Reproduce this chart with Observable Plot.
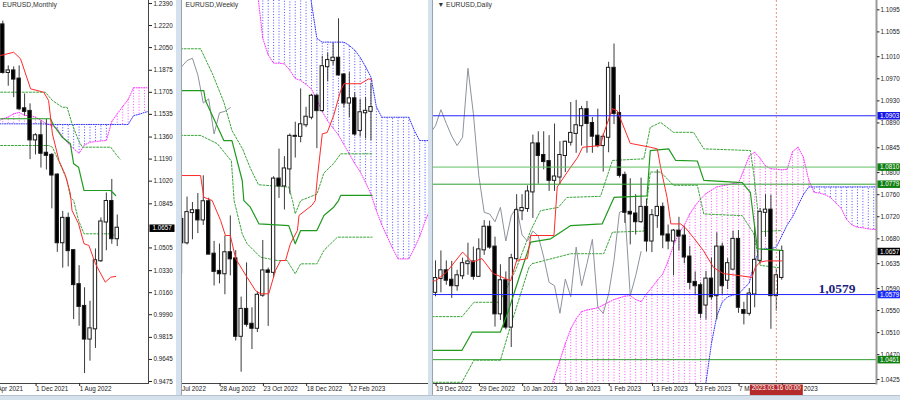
<!DOCTYPE html>
<html>
<head>
<meta charset="utf-8">
<script src="https://cdn.jsdelivr.net/npm/d3@7"></script>
<script src="https://cdn.jsdelivr.net/npm/@observablehq/plot@0.6"></script>
<style>
  html, body { margin: 0; padding: 0; background: #fff; }
  #chart { position: relative; width: 900px; height: 400px; overflow: hidden; background: #fff; }
  .pane { position: absolute; top: 0; }
  .pane svg { display: block; max-width: none; }
  .deco { position: absolute; }
</style>
</head>
<body>
<div id="chart">
  <div class="pane" id="monthly" style="left:0;width:176px;height:395px"></div>
  <div class="pane" id="weekly" style="left:182px;width:247px;height:395px"></div>
  <div class="pane" id="daily" style="left:433px;width:467px;height:395px"></div>
  <div class="deco" style="left:176px;top:0;width:6px;height:400px;background:#d6e1ee"></div>
  <div class="deco" style="left:181px;top:0;width:1px;height:395px;background:#9aa3ad"></div>
  <div class="deco" style="left:428px;top:0;width:4px;height:400px;background:#d6e1ee"></div>
  <div class="deco" style="left:432px;top:0;width:1px;height:395px;background:#9aa3ad"></div>
  <div class="deco" style="left:0;top:395px;width:900px;height:5px;background:#d6e1ee"></div>
  <div class="deco" style="left:0;top:395px;width:900px;height:1px;background:#b8c2ce"></div>
</div>
<script>
// ================= MONTHLY (Jun 2021 - Mar 2023) =================
const monthlyTitle = "EURUSD,Monthly";
const monthlyOpen  = [1.2225,1.1858,1.1870,1.1807,1.1578,1.1558,1.1338,1.1370,1.1235,1.1219,1.1067,1.0545,1.0733,1.0484,1.0222,1.0054,0.9802,0.9881,1.0406,1.0705,1.0863,1.0576];
const monthlyHigh  = [1.2254,1.1909,1.1901,1.1909,1.1692,1.1616,1.1386,1.1483,1.1495,1.1233,1.1076,1.0787,1.0774,1.0486,1.0368,1.0198,1.0094,1.0497,1.0736,1.0929,1.1033,1.0759];
const monthlyLow   = [1.1845,1.1752,1.1664,1.1563,1.1524,1.1186,1.1222,1.1121,1.1106,1.0806,1.0471,1.0349,1.0359,0.9952,0.9901,0.9536,0.9632,0.9730,1.0393,1.0483,1.0533,1.0516];
const monthlyClose = [1.1858,1.1870,1.1807,1.1578,1.1558,1.1338,1.1370,1.1235,1.1219,1.1067,1.0545,1.0733,1.0484,1.0222,1.0054,0.9802,0.9881,1.0406,1.0705,1.0863,1.0576,1.0657];
const monthlyTenkan = [[-0.4,1.1989],[2,1.2014],[3.25,1.1964],[5.1,1.1732],[7.5,1.1706],[8.4,1.1642],[9.1,1.1385],[10.3,1.1179],[11.5,1.1064],[12.4,1.0922],[12.7,1.0794],[13.9,1.0691],[14.9,1.0537],[15.8,1.0524],[17,1.0383],[18.8,1.0241],[19.8,1.0279],[20.7,1.0285]];
const monthlyKijun = [[-0.4,1.1501],[8.75,1.1501],[9.35,1.1449],[10.9,1.1359],[12.4,1.1308],[13,1.1154],[13.9,1.1128],[14.9,1.0948],[19.8,1.0948],[20.7,1.0909]];
const monthlyUpperBand = [[-0.4,1.1706],[7.8,1.1706],[9.1,1.1642],[10.9,1.1590],[11.8,1.1590],[12.7,1.1462],[13.9,1.1333],[14.6,1.1282],[19.8,1.1282],[20.7,1.1231],[21.5,1.1190]];
const monthlyLowerBand = [[-0.4,1.1295],[8.4,1.1295],[9.1,1.1282],[10.9,1.1115],[11.8,1.1025],[12.4,1.0896],[13,1.0871],[13.9,1.0717],[14.9,1.0614],[19.8,1.0614],[20.7,1.0601]];
const monthlySpanStart = -1;
const monthlySpanA = [1.1480,1.1500,1.1515,1.1539,1.1550,1.1526,1.1526,1.1513,1.1490,1.1462,1.1449,1.1424,1.1359,1.1310,1.1270,1.1235,1.1300,1.1320,1.1325,1.1330,1.1333,1.1480,1.1540,1.1595,1.1650,1.1740,1.1740,1.1740,1.1740];
const monthlySpanB = [1.1462,1.1462,1.1462,1.1462,1.1462,1.1462,1.1462,1.1462,1.1462,1.1460,1.1457,1.1457,1.1457,1.1457,1.1457,1.1457,1.1457,1.1457,1.1457,1.1457,1.1457,1.1457,1.1457,1.1457,1.1457,1.1526,1.1535,1.1550,1.1560];
const monthlyTicks = [1.2390,1.2220,1.2050,1.1875,1.1705,1.1535,1.1360,1.1190,1.1020,1.0845,1.0505,1.0330,1.0160,0.9990,0.9815,0.9645,0.9475];
const monthlyXTicks = [-2, 6, 14];
const monthlyXLabels = ["1 Apr 2021", "1 Dec 2021", "1 Aug 2022"];
const monthlyLastPrice = 1.0657;

// ================= WEEKLY (10 Jul 2022 - 12 Mar 2023) =================
const weeklyTitle = "EURUSD,Weekly";
const weeklyOpen  = [1.0183,1.0084,1.0212,1.0220,1.0181,1.0258,1.0036,0.9963,0.9953,1.0042,1.0016,0.9688,0.9802,0.9739,0.9722,0.9862,0.9965,0.9959,1.0354,1.0325,1.0397,1.0535,1.0535,1.0584,1.0616,1.0705,1.0644,1.0830,1.0856,1.0866,1.0795,1.0676,1.0694,1.0560,1.0635,1.0641];
const weeklyHigh  = [1.0200,1.0278,1.0255,1.0293,1.0368,1.0273,1.0090,1.0079,1.0113,1.0198,1.0051,0.9854,0.9999,0.9809,0.9876,1.0094,0.9977,1.0364,1.0481,1.0449,1.0545,1.0595,1.0736,1.0658,1.0713,1.0712,1.0874,1.0888,1.0929,1.1033,1.0801,1.0805,1.0719,1.0691,1.0700,1.0760];
const weeklyLow   = [0.9952,1.0075,1.0097,1.0123,1.0158,1.0034,0.9901,0.9910,0.9864,0.9944,0.9668,0.9536,0.9727,0.9632,0.9704,0.9853,0.9730,0.9935,1.0272,1.0223,1.0290,1.0443,1.0508,1.0572,1.0605,1.0483,1.0637,1.0766,1.0835,1.0796,1.0656,1.0613,1.0535,1.0533,1.0524,1.0516];
const weeklyClose = [1.0084,1.0212,1.0220,1.0181,1.0258,1.0036,0.9963,0.9953,1.0042,1.0016,0.9688,0.9802,0.9739,0.9722,0.9862,0.9965,0.9959,1.0354,1.0325,1.0397,1.0535,1.0535,1.0584,1.0616,1.0705,1.0644,1.0830,1.0856,1.0866,1.0795,1.0676,1.0694,1.0545,1.0635,1.0641,1.0657];
const weeklyTenkan = [[-0.2,1.0369],[3.5,1.0369],[4.1,1.0277],[5.65,1.0263],[7.2,1.0179],[8.1,1.0115],[9,1.0115],[10,1.0016],[12.1,0.9938],[13.65,0.9882],[14.6,0.9868],[16.1,0.9868],[17.35,0.9967],[18.3,1.0009],[19.2,1.0009],[20.1,1.0080],[21.4,1.0136],[21.7,1.0200],[24.1,1.0243],[24.7,1.0263],[25.1,1.0362],[26,1.0546],[26.9,1.0551],[28.1,1.0623],[29.4,1.0729],[30,1.0758],[33.1,1.0758],[34.6,1.0779],[35.2,1.0772]];
const weeklyKijun = [[-0.2,1.0729],[4.1,1.0729],[4.4,1.0687],[7.8,1.0517],[9.3,1.0517],[11.2,1.0348],[11.5,1.0263],[12.7,1.0235],[14.3,1.0164],[19.8,1.0157],[21,1.0080],[22,1.0136],[25,1.0136],[26.3,1.0200],[28.1,1.0235],[29,1.0263],[29.4,1.0285],[35.2,1.0285]];
const weeklyUpperBand = [[-0.2,1.0906],[3.5,1.0906],[5.7,1.0800],[7.8,1.0680],[9.3,1.0560],[11.3,1.0480],[12.7,1.0400],[14.2,1.0330],[19.8,1.0320],[20.5,1.0263],[21,1.0207],[22,1.0263],[25,1.0290],[26.3,1.0380],[28.1,1.0420],[29.4,1.0461],[35.2,1.0461]];
const weeklyLowerBand = [[-0.2,1.0539],[3.5,1.0539],[6.6,1.0504],[9.2,1.0430],[9.7,1.0263],[11.2,1.0122],[12.1,1.0080],[14.6,1.0023],[17.7,1.0009],[19.5,1.0009],[21,0.9953],[22,0.9995],[25,0.9995],[26.3,1.0052],[28.8,1.0108],[35.2,1.0108]];
const weeklySpanStart = 14;
const weeklySpanA = [1.1150,1.0950,1.0880,1.0845,1.0845,1.0842,1.0815,1.0780,1.0772,1.0755,1.0735,1.0690,1.0640,1.0600,1.0570,1.0540,1.0500,1.0460,1.0420,1.0385,1.0340,1.0290,1.0220,1.0160,1.0110,1.0060,1.0016,1.0016,1.0016,1.0060,1.0110,1.0175,1.0230];
const weeklySpanB = [1.1300,1.1300,1.1300,1.1300,1.1300,1.1300,1.1300,1.1300,1.1300,1.1300,1.1100,1.0950,1.0934,1.0934,1.0934,1.0934,1.0934,1.0920,1.0900,1.0870,1.0830,1.0786,1.0660,1.0616,1.0616,1.0616,1.0616,1.0616,1.0616,1.0560,1.0517,1.0517,1.0517];
const weeklyXTicks = [-1, 7, 15, 23, 31];
const weeklyXLabels = ["3 Jul 2022", "28 Aug 2022", "23 Oct 2022", "18 Dec 2022", "12 Feb 2023"];

// ================= DAILY (19 Dec 2022 - 17 Mar 2023) =================
const dailyTitle = "\u25BC EURUSD,Daily";
const dailyOpen  = [1.0583,1.0608,1.0622,1.0605,1.0595,1.0613,1.0635,1.0638,1.0612,1.0660,1.0701,1.0665,1.0544,1.0604,1.0520,1.0644,1.0731,1.0735,1.0765,1.0852,1.0831,1.0820,1.0786,1.0792,1.0831,1.0855,1.0871,1.0885,1.0914,1.0889,1.0866,1.0849,1.0864,1.0989,1.0907,1.0795,1.0728,1.0725,1.0711,1.0737,1.0676,1.0722,1.0737,1.0687,1.0676,1.0694,1.0685,1.0647,1.0601,1.0595,1.0560,1.0607,1.0577,1.0665,1.0605,1.0625,1.0679,1.0550,1.0545,1.0580,1.0641,1.0728,1.0732,1.0577,1.0610];
const dailyHigh  = [1.0640,1.0658,1.0640,1.0639,1.0623,1.0645,1.0672,1.0665,1.0680,1.0713,1.0712,1.0683,1.0633,1.0620,1.0652,1.0760,1.0760,1.0776,1.0868,1.0874,1.0874,1.0867,1.0888,1.0856,1.0857,1.0927,1.0931,1.0920,1.0929,1.0900,1.0915,1.0870,1.1000,1.1033,1.0940,1.0801,1.0789,1.0760,1.0790,1.0752,1.0733,1.0805,1.0745,1.0705,1.0697,1.0719,1.0702,1.0666,1.0620,1.0600,1.0621,1.0645,1.0691,1.0672,1.0644,1.0694,1.0695,1.0565,1.0590,1.0700,1.0735,1.0760,1.0759,1.0626,1.0667];
const dailyLow   = [1.0575,1.0582,1.0596,1.0572,1.0585,1.0606,1.0614,1.0605,1.0610,1.0650,1.0661,1.0520,1.0532,1.0515,1.0483,1.0637,1.0713,1.0728,1.0717,1.0779,1.0805,1.0766,1.0766,1.0778,1.0800,1.0848,1.0835,1.0848,1.0835,1.0835,1.0845,1.0801,1.0836,1.0887,1.0790,1.0708,1.0669,1.0687,1.0708,1.0656,1.0655,1.0699,1.0662,1.0660,1.0613,1.0658,1.0635,1.0588,1.0578,1.0535,1.0533,1.0569,1.0533,1.0577,1.0588,1.0623,1.0545,1.0524,1.0540,1.0555,1.0634,1.0683,1.0516,1.0549,1.0605];
const dailyClose = [1.0608,1.0622,1.0605,1.0595,1.0613,1.0635,1.0638,1.0612,1.0660,1.0701,1.0665,1.0544,1.0604,1.0520,1.0644,1.0731,1.0735,1.0765,1.0852,1.0831,1.0820,1.0786,1.0792,1.0831,1.0855,1.0871,1.0885,1.0914,1.0889,1.0866,1.0849,1.0864,1.0989,1.0907,1.0795,1.0728,1.0725,1.0711,1.0737,1.0676,1.0722,1.0737,1.0687,1.0676,1.0694,1.0685,1.0647,1.0601,1.0595,1.0545,1.0607,1.0575,1.0665,1.0595,1.0635,1.0679,1.0556,1.0545,1.0580,1.0641,1.0728,1.0732,1.0577,1.0613,1.0657];
const dailyTenkan = [[-0.6,1.0604],[0,1.0604],[2,1.0619],[5,1.0656],[6.8,1.0638],[8.6,1.0644],[10.7,1.0617],[13.9,1.0604],[15,1.0641],[17,1.0644],[17.6,1.0686],[21.9,1.0686],[22.5,1.0774],[25,1.0810],[26.3,1.0828],[27.2,1.0846],[30.5,1.0849],[31.1,1.0871],[32.7,1.0916],[33.6,1.0912],[36,1.0853],[39.7,1.0846],[41,1.0843],[41.6,1.0810],[42.8,1.0755],[43.5,1.0707],[45.3,1.0707],[46.2,1.0700],[47.7,1.0682],[49.5,1.0659],[51.4,1.0628],[53.2,1.0617],[56.4,1.0613],[58.5,1.0610],[59.1,1.0628],[60,1.0638],[61.2,1.0640],[64,1.0640]];
const dailyKijun = [[-0.6,1.0478],[4.9,1.0478],[6.8,1.0511],[12,1.0511],[13.5,1.0550],[15.1,1.0599],[17.6,1.0674],[21.3,1.0680],[25,1.0704],[30.8,1.0707],[33,1.0755],[39.1,1.0758],[39.7,1.0840],[43.1,1.0843],[44.4,1.0822],[48.4,1.0821],[49.6,1.0786],[56.7,1.0782],[58.2,1.0764],[59.5,1.0662],[64,1.0659]];
const dailyUpperBand = [[-0.6,1.0539],[4.9,1.0539],[7.1,1.0565],[11.8,1.0565],[14.8,1.0623],[17.6,1.0695],[19.4,1.0731],[22.7,1.0737],[24.3,1.0755],[30.5,1.0757],[32.7,1.0822],[38.5,1.0825],[39.7,1.0882],[41.6,1.0891],[44,1.0873],[47.7,1.0873],[49.6,1.0843],[58.2,1.0840],[58.8,1.0800],[60,1.0693],[64,1.0695]];
const dailyLowerBand = [[-0.6,1.0420],[4.9,1.0420],[7.1,1.0460],[12,1.0460],[13.5,1.0510],[15.1,1.0560],[17.3,1.0629],[17.9,1.0635],[25,1.0653],[31.1,1.0653],[32.7,1.0692],[38.5,1.0694],[39.7,1.0801],[41.6,1.0801],[44,1.0777],[48.4,1.0777],[49.6,1.0725],[56.7,1.0722],[58.8,1.0690],[60,1.0632],[64,1.0627]];
const dailySpanStart = 21;
const dailySpanA = [1.0400,1.0430,1.0460,1.0490,1.0517,1.0535,1.0548,1.0551,1.0553,1.0555,1.0560,1.0565,1.0570,1.0573,1.0576,1.0577,1.0570,1.0566,1.0580,1.0592,1.0605,1.0616,1.0640,1.0668,1.0690,1.0705,1.0725,1.0740,1.0752,1.0762,1.0768,1.0774,1.0776,1.0778,1.0780,1.0781,1.0805,1.0830,1.0837,1.0826,1.0812,1.0807,1.0806,1.0805,1.0806,1.0838,1.0846,1.0828,1.0786,1.0764,1.0763,1.0760,1.0755,1.0745,1.0735,1.0715,1.0705,1.0701,1.0700,1.0698,1.0697,1.0697];
const dailySpanB = [1.0350,1.0350,1.0350,1.0350,1.0350,1.0350,1.0350,1.0350,1.0350,1.0350,1.0350,1.0350,1.0350,1.0350,1.0350,1.0350,1.0350,1.0350,1.0350,1.0350,1.0350,1.0350,1.0350,1.0350,1.0350,1.0350,1.0350,1.0350,1.0350,1.0420,1.0490,1.0540,1.0565,1.0575,1.0578,1.0580,1.0590,1.0600,1.0640,1.0660,1.0662,1.0662,1.0665,1.0685,1.0705,1.0720,1.0740,1.0760,1.0774,1.0774,1.0774,1.0774,1.0774,1.0774,1.0774,1.0774,1.0774,1.0774,1.0774,1.0774,1.0774,1.0774];
const dailyTicks = [1.1095,1.1055,1.1010,1.0970,1.0930,1.0890,1.0845,1.0800,1.0760,1.0720,1.0680,1.0635,1.0590,1.0550,1.0510,1.0470,1.0425];
const dailyXTicks = [0, 8, 16, 24, 32, 40, 48, 56, 64];
const dailyXLabels = ["19 Dec 2022","29 Dec 2022","10 Jan 2023","20 Jan 2023","1 Feb 2023","13 Feb 2023","23 Feb 2023","7 Mar 2023","17 Mar 2023"];
const dailyLevels = [1.0903, 1.0810, 1.0779, 1.0579, 1.0461];
const dailyLevelLine = ["#2323ff", "#62c162", "#2f9d2f", "#2323ff", "#2f9d2f"];
const dailyLevelBox = ["#1515e8", "#0f7f0f", "#0f7f0f", "#1c2cff", "#0f7f0f"];
const dailyLastPrice = 1.0657;
const dailyKeyLevel = {v: 1.0579, label: "1,0579"};
const crossIndex = 63;
const crossLabel = "2023.03.16 00:00";

// ================= helpers =================
const FONT = "'Liberation Sans', Arial, sans-serif";
const FS = 6.3;
const fmt4 = v => v.toFixed(4);
const toBars = (o, h, l, c) => o.map((v, k) => ({k, o: v, h: h[k], l: l[k], c: c[k]}));
const toSpans = (start, A, B) => A.map((a, j) => ({k: start + j, a, b: B[j]}));
const boxSymbol = (x0, w, h) => ({draw(ctx) { ctx.moveTo(x0, -h / 2); ctx.lineTo(x0 + w, -h / 2); ctx.lineTo(x0 + w, h / 2); ctx.lineTo(x0, h / 2); ctx.closePath(); }});
const dateBoxSymbol = {draw(ctx) { ctx.moveTo(-26.5, 1); ctx.lineTo(26.5, 1); ctx.lineTo(26.5, 12); ctx.lineTo(-26.5, 12); ctx.closePath(); }};

function candleMarks(data) {
  return [
    Plot.ruleX(data, {x: "k", y1: "l", y2: "h", stroke: "#3a3a3a", strokeWidth: 1, clip: true}),
    Plot.rect(data, {x1: d => d.k - 0.31, x2: d => d.k + 0.31, y1: "o", y2: "c", insetTop: -0.5, insetBottom: -0.5,
      fill: d => d.c >= d.o ? "#ffffff" : "#000000", stroke: "#1a1a1a", strokeWidth: 1, clip: true})
  ];
}
function cloudMarks(s) {
  return [
    Plot.ruleX(s, {x: "k", y1: "a", y2: "b", stroke: d => d.a >= d.b ? "#ff4dff" : "#4d4dff", strokeWidth: 1, strokeDasharray: "1,1.8", clip: true}),
    Plot.line(s, {x: "k", y: "a", stroke: "#ff33ff", strokeWidth: 1, strokeDasharray: "1,1.4", clip: true}),
    Plot.line(s, {x: "k", y: "b", stroke: "#3333ff", strokeWidth: 1, strokeDasharray: "1,1.4", clip: true})
  ];
}
const path = (pts, stroke, extra = {}) => Plot.line(pts, {x: d => d[0], y: d => d[1], stroke, strokeWidth: 1, clip: true, ...extra});
const dashed = {strokeDasharray: "2,1.6"};
const xAxis = (ticks, labels) => Plot.axisX(ticks, {anchor: "bottom", tickSize: 3, tickPadding: 0.5,
  tickFormat: d => labels[ticks.indexOf(d)], textAnchor: "start", dx: 0.6, fontSize: FS, color: "#222", label: null});
const title = (t, dx) => Plot.text([t], {text: d => d, frameAnchor: "top-left", dx, dy: 1.5, lineAnchor: "top", textAnchor: "start", fontSize: 6.8, fill: "#333"});
const base = {height: 395, marginTop: 0, marginBottom: 12, color: {type: "identity"},
  style: {fontFamily: FONT, fontSize: FS + "px", overflow: "hidden", background: "transparent"}};

// ================= Monthly plot =================
const mBars = toBars(monthlyOpen, monthlyHigh, monthlyLow, monthlyClose);
const monthly = Plot.plot({
  ...base, width: 176, marginLeft: 0, marginRight: 28,
  x: {domain: [-0.422, 26.734]},
  y: {domain: [0.94595, 1.24131]},
  marks: [
    ...cloudMarks(toSpans(monthlySpanStart, monthlySpanA, monthlySpanB)),
    path(monthlyUpperBand, "#3aa53a", dashed),
    path(monthlyLowerBand, "#3aa53a", dashed),
    ...candleMarks(mBars),
    path(monthlyKijun, "#1f9a1f", {strokeWidth: 1.2}),
    path(monthlyTenkan, "#ff2a2a"),
    Plot.frame({anchor: "right", stroke: "#444"}),
    Plot.frame({anchor: "bottom", stroke: "#444"}),
    Plot.axisY(monthlyTicks, {anchor: "right", tickSize: 3, tickPadding: 2, tickFormat: fmt4, fontSize: FS, color: "#222", label: null}),
    xAxis(monthlyXTicks, monthlyXLabels),
    Plot.dot([monthlyLastPrice], {y: d => d, frameAnchor: "right", symbol: boxSymbol(1, 25, 7.5), fill: "#000"}),
    Plot.text([monthlyLastPrice], {y: d => d, text: fmt4, frameAnchor: "right", dx: 4, textAnchor: "start", fill: "#fff", fontSize: FS}),
    title(monthlyTitle, 2)
  ]
});
document.getElementById("monthly").appendChild(monthly);

// ================= Weekly plot =================
const wBars = toBars(weeklyOpen, weeklyHigh, weeklyLow, weeklyClose);
const wChikou = weeklyClose.map((c, k) => [k - 26, c]).filter(d => d[0] >= -1);
const weekly = Plot.plot({
  ...base, width: 247, marginLeft: 0, marginRight: 1,
  x: {domain: [0.161, 45.632]},
  y: {domain: [0.94881, 1.11105], axis: null},
  marks: [
    ...cloudMarks(toSpans(weeklySpanStart, weeklySpanA, weeklySpanB)),
    path(weeklyUpperBand, "#3aa53a", dashed),
    path(weeklyLowerBand, "#3aa53a", dashed),
    path(wChikou, "#8d939c"),
    ...candleMarks(wBars),
    path(weeklyKijun, "#1f9a1f", {strokeWidth: 1.2}),
    path(weeklyTenkan, "#ff2a2a"),
    Plot.frame({anchor: "right", stroke: "#444"}),
    Plot.frame({anchor: "bottom", stroke: "#444"}),
    xAxis(weeklyXTicks, weeklyXLabels),
    title(weeklyTitle, 3)
  ]
});
document.getElementById("weekly").appendChild(weekly);

// ================= Daily plot =================
const dBars = toBars(dailyOpen, dailyHigh, dailyLow, dailyClose);
const dChikou = dailyClose.map((c, k) => [k - 26, c]).filter(d => d[0] >= -1);
const levelRows = dailyLevels.map((v, i) => ({v, line: dailyLevelLine[i], box: dailyLevelBox[i]}));
const daily = Plot.plot({
  ...base, width: 467, marginLeft: 0, marginRight: 24,
  x: {domain: [-0.3697, 81.516]},
  y: {domain: [1.04178, 1.11119]},
  marks: [
    ...cloudMarks(toSpans(dailySpanStart, dailySpanA, dailySpanB)),
    path(dailyUpperBand, "#3aa53a", dashed),
    path(dailyLowerBand, "#3aa53a", dashed),
    path(dChikou, "#8d939c"),
    ...candleMarks(dBars),
    path(dailyKijun, "#1f9a1f", {strokeWidth: 1.2}),
    path(dailyTenkan, "#ff2a2a"),
    Plot.ruleY(levelRows, {y: "v", stroke: "line", strokeWidth: 1}),
    Plot.ruleX([crossIndex], {x: d => d, stroke: "#e08e8e", strokeDasharray: "2,2", strokeWidth: 1}),
    Plot.frame({anchor: "bottom", stroke: "#444"}),
    Plot.frame({anchor: "right", stroke: "#9a9a9a", strokeWidth: 2}),
    Plot.axisY(dailyTicks, {anchor: "right", tickSize: 2.5, tickPadding: 1.5, tickFormat: fmt4, fontSize: FS, color: "#222", label: null}),
    xAxis(dailyXTicks, dailyXLabels),
    Plot.dot(levelRows, {y: "v", frameAnchor: "right", symbol: boxSymbol(1, 24, 7.5), fill: "box"}),
    Plot.text(levelRows, {y: "v", text: d => fmt4(d.v), frameAnchor: "right", dx: 3.5, textAnchor: "start", fill: "#fff", fontSize: FS}),
    Plot.dot([dailyLastPrice], {y: d => d, frameAnchor: "right", symbol: boxSymbol(1, 24, 7.5), fill: "#000"}),
    Plot.text([dailyLastPrice], {y: d => d, text: fmt4, frameAnchor: "right", dx: 3.5, textAnchor: "start", fill: "#fff", fontSize: FS}),
    Plot.text([dailyKeyLevel], {y: "v", text: "label", frameAnchor: "right", dx: -21, dy: -2, textAnchor: "end", lineAnchor: "bottom",
      fontFamily: "'Liberation Serif', 'Times New Roman', serif", fontWeight: "bold", fontSize: 13.5, fill: "#1c237e"}),
    Plot.dot([crossIndex], {x: d => d, frameAnchor: "bottom", symbol: dateBoxSymbol, fill: "#b42a2a"}),
    Plot.text([crossIndex], {x: d => d, text: () => crossLabel, frameAnchor: "bottom", dy: 6.5, fill: "#fff", fontSize: FS}),
    title(dailyTitle, 4)
  ]
});
document.getElementById("daily").appendChild(daily);
</script>
</body>
</html>
